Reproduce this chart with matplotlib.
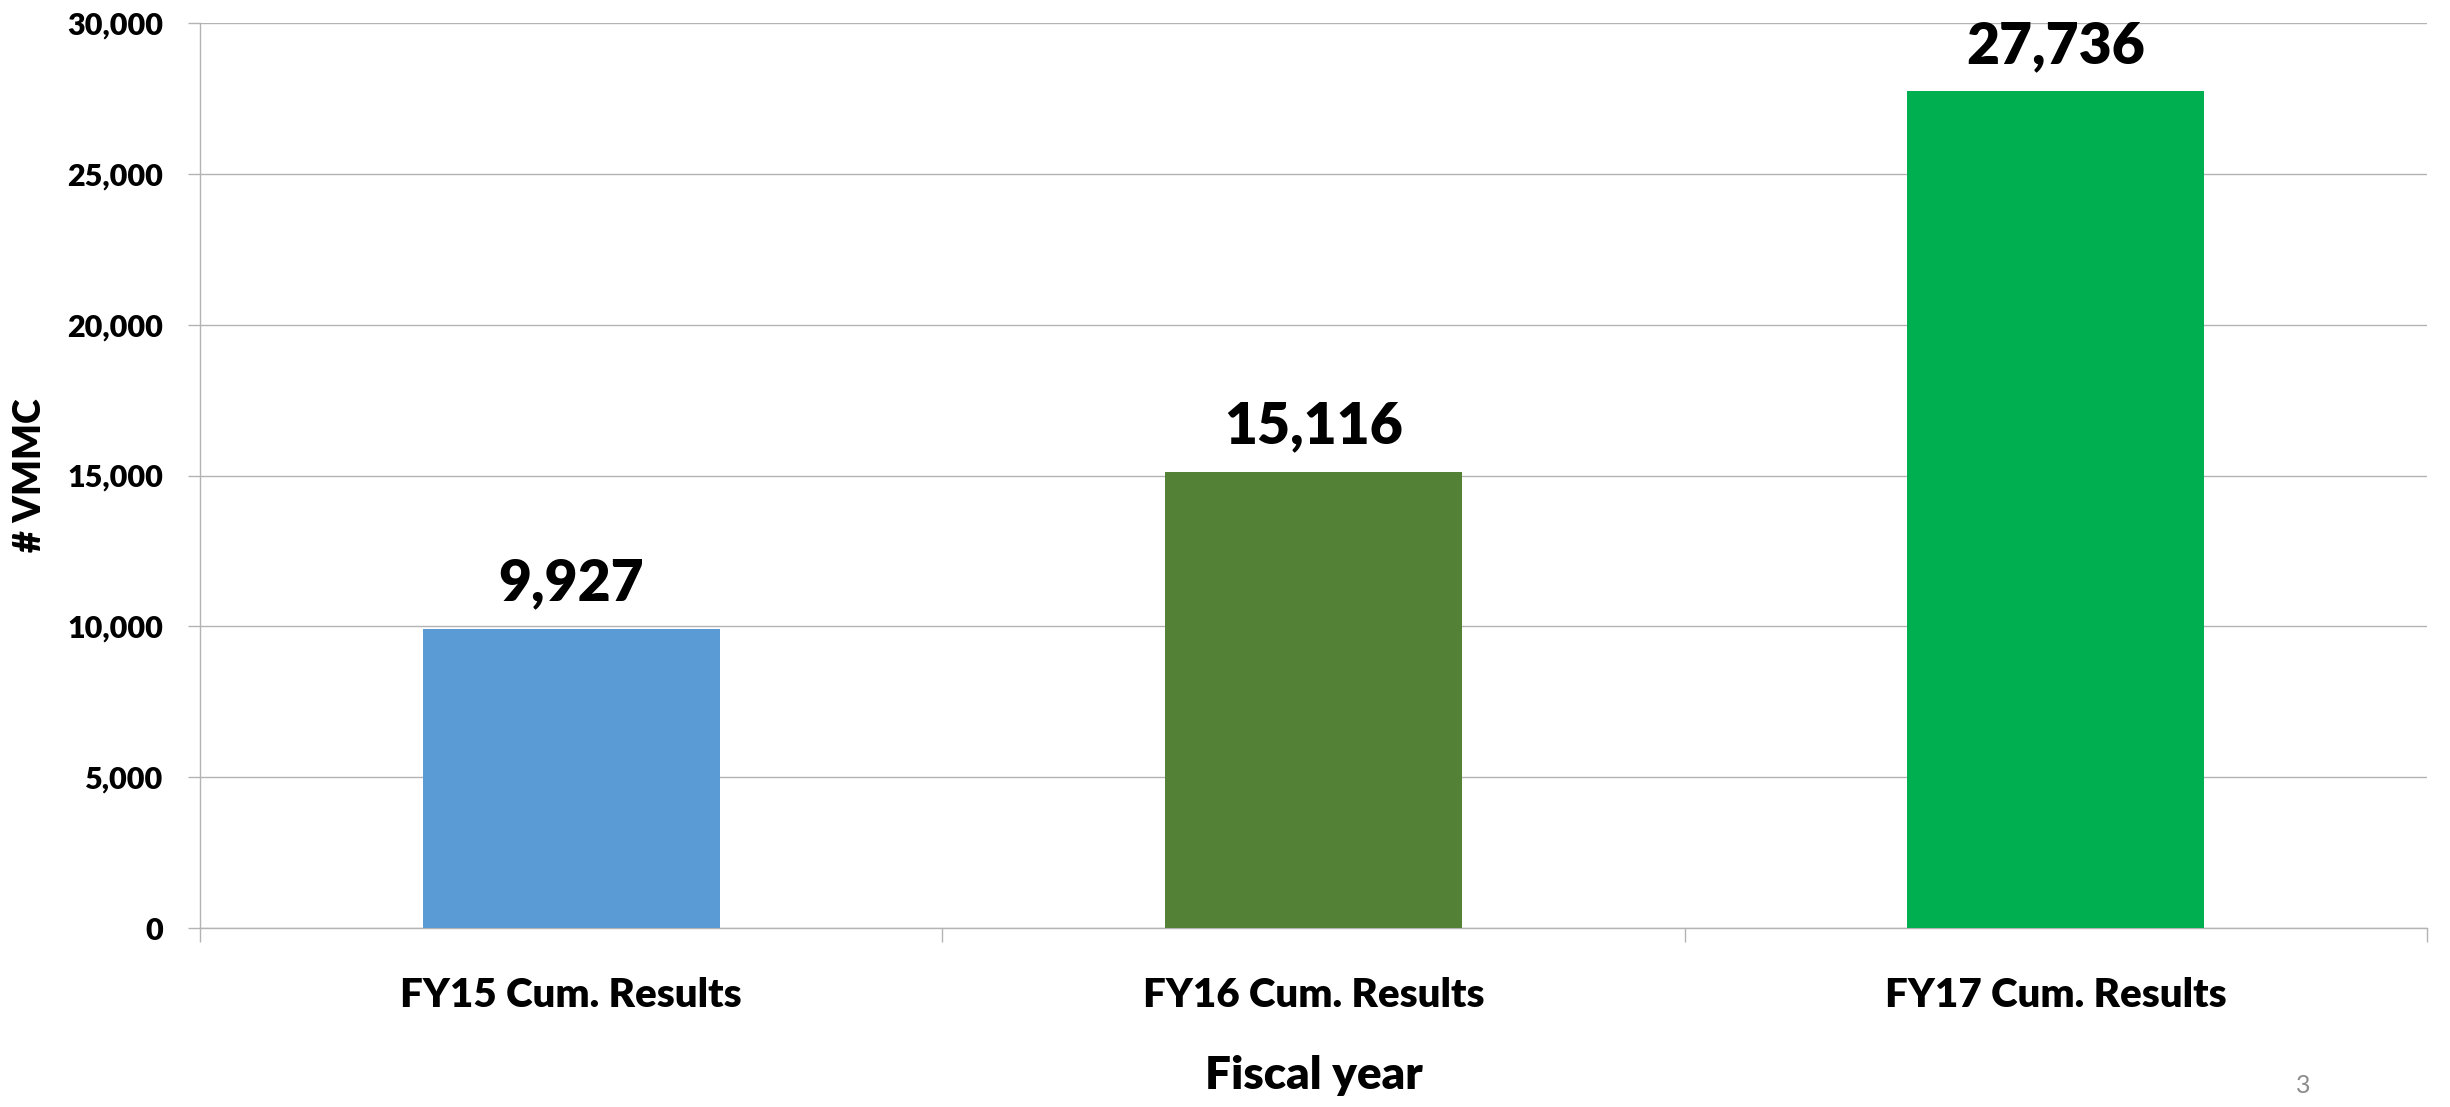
import matplotlib.pyplot as plt
from matplotlib.ticker import FuncFormatter, FixedLocator

plt.rcParams['font.family'] = ['Lato', 'DejaVu Sans']
plt.rcParams['font.weight'] = 'heavy'

categories = ['FY15 Cum. Results', 'FY16 Cum. Results', 'FY17 Cum. Results']
values = [9927, 15116, 27736]
colors = ['#5B9BD5', '#538135', '#00B050']
y_ticks = [0, 5000, 10000, 15000, 20000, 25000, 30000]

grid_col = '#B3B3B3'

fig = plt.figure(figsize=(24.5, 11.07), dpi=100)
ax = fig.add_axes([200 / 2450, 1 - 928 / 1107, 2227 / 2450, 905 / 1107])

x = list(range(len(categories)))
bars = ax.bar(x, values, width=0.4, color=colors, zorder=3)
ax.bar_label(bars, labels=[f'{v:,}' for v in values], padding=14,
             fontsize=41, fontweight='heavy')

ax.set_xlim(-0.5, 2.5)
ax.set_ylim(0, 30000)
ax.set_yticks(y_ticks)
ax.yaxis.set_major_formatter(FuncFormatter(lambda v, p: f'{int(v):,}'))
ax.set_xticks(x)
ax.set_xticklabels(categories)
ax.xaxis.set_minor_locator(FixedLocator([-0.5, 0.5, 1.5, 2.5]))

ax.tick_params(axis='x', which='major', length=0, pad=35, labelsize=29)
ax.tick_params(axis='x', which='minor', length=10, width=1, color=grid_col)
ax.tick_params(axis='y', length=8.6, width=1, color=grid_col, pad=18, labelsize=22)

ax.grid(axis='y', color=grid_col, linewidth=1, zorder=0)
for s in ['top', 'right']:
    ax.spines[s].set_visible(False)
for s in ['left', 'bottom']:
    ax.spines[s].set_color(grid_col)
    ax.spines[s].set_linewidth(1)

ax.set_ylabel('# VMMC', fontsize=27, fontweight='heavy')
ax.yaxis.set_label_coords(-0.0687, 0.5)
ax.set_xlabel('Fiscal year', fontsize=33, fontweight='heavy', labelpad=30)

fig.text(2303 / 2450, 1 - 1093 / 1107, '3', fontsize=18, fontweight='normal',
         color='#8C8C8C', ha='center', va='baseline')

fig.savefig('out.png', dpi=100)
